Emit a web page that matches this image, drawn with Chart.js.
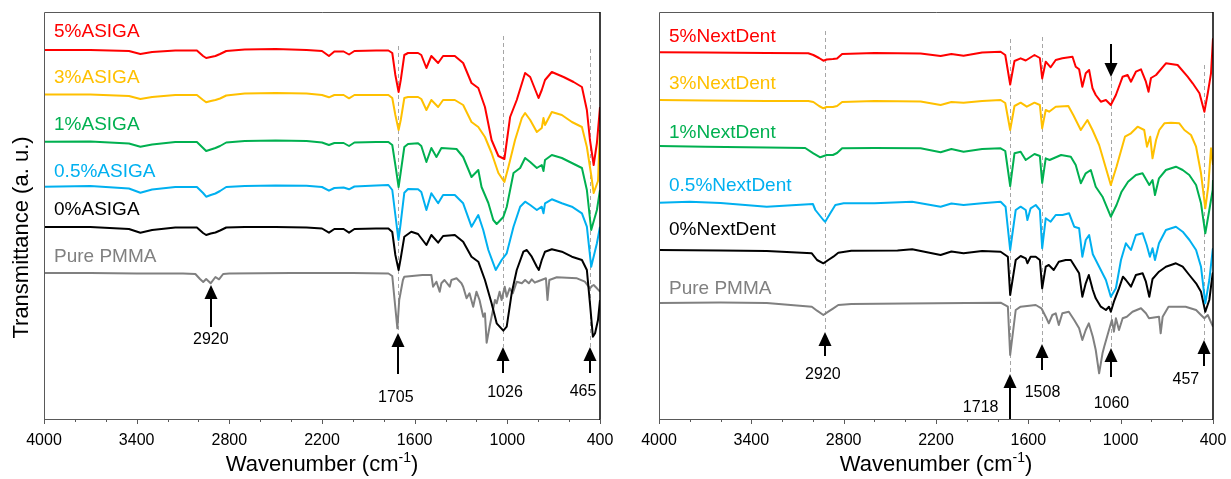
<!DOCTYPE html>
<html>
<head>
<meta charset="utf-8">
<title>FTIR spectra</title>
<script src="https://cdn.jsdelivr.net/npm/chart.js@4.4.1/dist/chart.umd.min.js"></script>
<style>
    body { margin: 0; background: #fff; }
    .wrap { position: relative; width: 1231px; height: 479px; }
    canvas { position: absolute; top: 0; }
    #asigaChart { left: 0; }
    #nextdentChart { left: 615px; }
</style>
</head>
<body>
<div class="wrap">
    <canvas id="asigaChart" width="615" height="479"></canvas>
    <canvas id="nextdentChart" width="616" height="479"></canvas>
</div>
<script>
/* ========================================
   Data (wavenumber cm-1, transmittance a.u. with offsets)
   ======================================== */

const xTicks = [4000, 3400, 2800, 2200, 1600, 1000, 400];

const asigaNames = ['5%ASIGA', '3%ASIGA', '1%ASIGA', '0.5%ASIGA', '0%ASIGA', 'Pure PMMA'];
const nextdentNames = ['5%NextDent', '3%NextDent', '1%NextDent', '0.5%NextDent', '0%NextDent', 'Pure PMMA'];

const asigaPeaks = [2920, 1705, 1026, 465];
const nextdentPeaks = [2920, 1718, 1508, 1060, 457];

const asiga5 = [
    [4000, 36.9], [3700, 36.9], [3450, 36.8], [3376, 36.5], [3300, 36.7], [3150, 36.85], [3010, 36.85],
    [2970, 36.3], [2950, 36.1], [2920, 36.2], [2890, 36.3], [2860, 36.5], [2820, 36.8], [2700, 36.95],
    [2500, 37.0], [2300, 36.9], [2200, 36.8], [2155, 36.3], [2120, 36.75], [2060, 36.75], [2025, 36.45],
    [1990, 36.8], [1850, 36.85], [1770, 36.85], [1745, 36.6], [1725, 34.4], [1704, 32.7], [1690, 33.9],
    [1667, 36.4], [1643, 36.6], [1578, 36.6], [1557, 36.4], [1524, 35.1], [1492, 36.3], [1448, 35.6],
    [1416, 36.3], [1340, 36.3], [1286, 35.6], [1232, 33.6], [1188, 33.1], [1145, 31.2], [1102, 27.9],
    [1058, 26.3], [1019, 26.0], [982, 30.2], [939, 31.9], [885, 34.6], [852, 34.2], [798, 32.1],
    [777, 32.9], [756, 33.9], [712, 34.7], [636, 34.2], [571, 33.7], [517, 33.2], [485, 30.9],
    [465, 27.9], [441, 25.4], [420, 27.6], [400, 31.2]
];
const asiga3 = [
    [4000, 32.45], [3700, 32.45], [3450, 32.3], [3376, 32.0], [3300, 32.2], [3150, 32.4], [3010, 32.4],
    [2970, 31.9], [2950, 31.67], [2920, 31.8], [2890, 31.9], [2860, 32.05], [2820, 32.35], [2700, 32.55],
    [2500, 32.6], [2300, 32.55], [2200, 32.4], [2155, 32.17], [2120, 32.4], [2060, 32.4], [2025, 32.07],
    [1990, 32.4], [1850, 32.4], [1770, 32.4], [1745, 32.1], [1725, 30.4], [1704, 28.9], [1690, 29.9],
    [1667, 32.1], [1643, 32.2], [1578, 32.2], [1557, 32.0], [1524, 30.9], [1492, 31.9], [1448, 31.2],
    [1416, 31.9], [1340, 31.9], [1286, 31.4], [1232, 29.7], [1188, 29.2], [1145, 28.2], [1102, 26.6],
    [1058, 24.6], [1019, 23.7], [993, 25.2], [950, 27.9], [906, 30.1], [885, 30.6], [852, 29.9],
    [809, 28.7], [777, 29.1], [766, 30.1], [756, 29.4], [712, 30.7], [647, 30.4], [582, 29.7],
    [517, 29.2], [485, 27.2], [457, 24.4], [441, 22.6], [413, 23.8], [400, 28.9]
];
const asiga1 = [
    [4000, 27.73], [3700, 27.75], [3450, 27.55], [3376, 27.23], [3300, 27.45], [3150, 27.7], [3010, 27.7],
    [2970, 27.1], [2950, 26.8], [2920, 26.95], [2890, 27.1], [2860, 27.3], [2820, 27.65], [2700, 27.8],
    [2500, 27.85], [2300, 27.8], [2200, 27.65], [2155, 27.4], [2120, 27.6], [2060, 27.6], [2025, 27.3],
    [1990, 27.65], [1850, 27.7], [1770, 27.7], [1745, 27.4], [1725, 25.4], [1704, 23.2], [1690, 24.7],
    [1667, 27.2], [1643, 27.5], [1578, 27.57], [1557, 27.3], [1524, 25.7], [1492, 27.1], [1459, 26.2],
    [1427, 27.1], [1329, 27.0], [1286, 26.2], [1232, 24.2], [1188, 24.9], [1167, 23.2], [1123, 21.6],
    [1091, 19.9], [1069, 19.5], [1026, 20.2], [1004, 21.2], [960, 24.6], [917, 25.1], [885, 26.1],
    [852, 25.7], [809, 25.1], [777, 25.4], [766, 24.8], [756, 25.9], [712, 26.4], [647, 26.1],
    [582, 25.6], [517, 25.1], [485, 22.9], [457, 18.9], [420, 20.9], [400, 22.9]
];
const asiga05 = [
    [4000, 23.23], [3700, 23.3], [3450, 23.05], [3376, 22.63], [3300, 22.95], [3150, 23.2], [3010, 23.2],
    [2970, 22.6], [2950, 22.23], [2920, 22.4], [2890, 22.55], [2860, 22.8], [2820, 23.2], [2700, 23.3],
    [2500, 23.35], [2300, 23.33], [2200, 23.2], [2155, 22.83], [2120, 23.1], [2060, 23.15], [2025, 22.97],
    [1990, 23.25], [1850, 23.35], [1770, 23.4], [1745, 22.9], [1725, 20.4], [1705, 17.9], [1692, 19.4],
    [1667, 22.63], [1643, 23.0], [1578, 22.97], [1557, 22.7], [1524, 20.9], [1492, 22.57], [1448, 21.57],
    [1416, 22.4], [1340, 22.4], [1286, 21.57], [1232, 19.23], [1188, 20.4], [1156, 18.9], [1123, 16.9],
    [1091, 15.57], [1075, 14.9], [1037, 15.9], [1004, 16.57], [960, 19.23], [917, 21.23], [885, 21.73],
    [852, 21.4], [809, 20.9], [777, 21.23], [766, 20.57], [756, 21.57], [712, 21.97], [647, 21.57],
    [582, 21.23], [517, 20.57], [485, 19.23], [457, 15.23], [420, 17.57], [400, 19.23]
];
const asiga0 = [
    [4000, 19.2], [3700, 19.2], [3450, 19.0], [3376, 18.63], [3300, 18.9], [3150, 19.15], [3010, 19.15],
    [2970, 18.6], [2950, 18.4], [2920, 18.55], [2890, 18.65], [2860, 18.85], [2820, 19.15], [2700, 19.2],
    [2500, 19.2], [2300, 19.15], [2200, 19.05], [2155, 18.63], [2120, 19.0], [2060, 19.0], [2025, 18.63],
    [1990, 19.0], [1850, 19.05], [1770, 19.05], [1745, 18.7], [1725, 16.4], [1704, 14.9], [1690, 16.1],
    [1667, 18.23], [1622, 18.73], [1578, 18.5], [1524, 17.4], [1492, 18.4], [1448, 17.63], [1416, 18.3],
    [1340, 18.4], [1286, 17.73], [1232, 16.23], [1188, 15.73], [1145, 13.9], [1102, 11.57], [1069, 9.57],
    [1026, 8.83], [1004, 9.23], [972, 12.57], [939, 14.9], [896, 16.73], [874, 16.9], [842, 16.23],
    [809, 15.23], [796, 14.9], [777, 15.9], [756, 16.73], [712, 16.97], [647, 16.73], [582, 16.23],
    [517, 15.9], [485, 14.9], [465, 11.57], [446, 8.23], [432, 8.57], [413, 9.9], [400, 11.9]
];
const pmmaA = [
    [4000, 14.6], [3700, 14.6], [3400, 14.55], [3100, 14.55], [3020, 14.5], [2990, 14.0], [2969, 13.7],
    [2950, 14.0], [2921, 13.57], [2890, 14.2], [2867, 13.97], [2840, 14.5], [2800, 14.55], [2400, 14.6],
    [2000, 14.6], [1770, 14.55], [1745, 14.3], [1730, 11.9], [1712, 9.07], [1700, 11.9], [1676, 13.9],
    [1667, 14.23], [1550, 14.4], [1492, 14.4], [1481, 13.23], [1459, 13.73], [1438, 12.73], [1427, 13.57],
    [1407, 13.9], [1373, 13.23], [1362, 13.9], [1329, 14.07], [1297, 13.57], [1286, 13.23], [1264, 12.07],
    [1245, 12.57], [1221, 11.23], [1200, 12.73], [1180, 11.9], [1156, 10.23], [1145, 10.57], [1134, 7.63],
    [1115, 9.23], [1102, 10.23], [1080, 11.9], [1069, 11.57], [1050, 12.73], [1037, 11.9], [1017, 13.23],
    [1004, 12.23], [985, 13.07], [965, 12.57], [939, 13.73], [906, 13.57], [885, 13.9], [861, 13.57],
    [842, 13.97], [822, 13.63], [809, 13.73], [750, 14.07], [740, 11.9], [728, 13.9], [680, 14.17],
    [549, 14.07], [498, 13.73], [465, 13.07], [452, 13.3], [441, 13.4], [420, 13.07], [400, 12.73]
];

const nextdent5 = [
    [4000, 36.67], [3700, 36.65], [3300, 36.6], [3030, 36.57], [2997, 36.4], [2960, 36.1], [2932, 35.83],
    [2910, 35.95], [2870, 36.0], [2843, 36.05], [2810, 36.5], [2600, 36.6], [2300, 36.55], [2170, 36.3],
    [2100, 36.5], [2021, 36.33], [1900, 36.65], [1780, 36.73], [1750, 36.4], [1718, 33.45], [1690, 35.8],
    [1650, 36.07], [1617, 35.85], [1560, 36.4], [1525, 36.1], [1510, 34.05], [1487, 35.73], [1455, 35.17],
    [1422, 35.9], [1379, 36.07], [1313, 36.23], [1292, 35.23], [1270, 34.97], [1249, 33.23], [1227, 34.57],
    [1205, 34.9], [1183, 33.07], [1162, 32.4], [1129, 31.73], [1096, 31.9], [1064, 31.4], [1031, 32.4],
    [987, 34.23], [955, 34.4], [933, 33.73], [901, 34.73], [868, 34.97], [836, 33.73], [819, 32.73],
    [803, 34.1], [770, 34.4], [706, 35.57], [630, 35.4], [565, 34.23], [532, 33.57], [510, 33.07],
    [488, 32.57], [456, 30.73], [434, 32.57], [413, 34.57], [400, 38.07]
];
const nextdent3 = [
    [4000, 31.9], [3700, 31.85], [3300, 31.8], [3030, 31.8], [2997, 31.7], [2960, 31.3], [2932, 31.07],
    [2910, 31.2], [2870, 31.2], [2843, 31.3], [2810, 31.7], [2600, 31.8], [2300, 31.75], [2170, 31.4],
    [2100, 31.7], [2021, 31.63], [1900, 31.8], [1780, 31.9], [1750, 31.6], [1718, 28.9], [1690, 31.3],
    [1650, 31.63], [1610, 31.23], [1560, 31.63], [1525, 31.4], [1510, 29.07], [1487, 30.9], [1465, 30.73],
    [1422, 31.23], [1340, 31.3], [1308, 30.4], [1259, 28.9], [1216, 29.9], [1183, 28.9], [1140, 27.4],
    [1064, 23.4], [1027, 25.23], [972, 28.23], [933, 28.57], [890, 29.23], [847, 28.9], [829, 27.23],
    [808, 28.23], [793, 26.07], [770, 27.9], [749, 28.9], [716, 29.57], [673, 29.63], [619, 29.57],
    [586, 28.9], [543, 28.4], [510, 27.23], [478, 24.57], [450, 21.07], [431, 23.23], [413, 27.07],
    [400, 25.4]
];
const nextdent1 = [
    [4000, 27.3], [3700, 27.23], [3300, 27.15], [3050, 27.1], [2997, 26.57], [2952, 26.17], [2910, 26.4],
    [2870, 26.4], [2843, 26.6], [2810, 27.07], [2600, 27.1], [2300, 27.07], [2170, 26.67], [2100, 27.0],
    [2021, 26.73], [1900, 27.0], [1780, 27.07], [1750, 26.8], [1718, 23.3], [1690, 26.57], [1650, 26.73],
    [1617, 25.9], [1560, 26.5], [1525, 26.3], [1510, 23.6], [1487, 26.07], [1462, 25.9], [1387, 26.4],
    [1324, 26.23], [1292, 25.4], [1259, 23.57], [1227, 24.57], [1194, 24.9], [1162, 23.23], [1118, 22.23],
    [1064, 20.23], [1027, 21.4], [994, 22.73], [952, 23.73], [901, 24.4], [858, 24.57], [814, 23.4],
    [793, 23.9], [777, 22.4], [751, 24.07], [706, 24.9], [641, 25.23], [597, 24.9], [554, 24.4],
    [510, 23.4], [478, 21.57], [450, 18.57], [424, 20.9], [402, 22.9], [400, 23.9]
];
const nextdent05 = [
    [4000, 21.63], [3800, 21.73], [3600, 21.6], [3300, 21.23], [3000, 21.5], [2984, 20.9], [2932, 19.9],
    [2920, 19.73], [2887, 20.57], [2854, 21.4], [2800, 21.57], [2600, 21.57], [2355, 21.73], [2170, 21.23],
    [2100, 21.55], [2021, 21.4], [1900, 21.57], [1780, 21.73], [1748, 21.23], [1718, 16.9], [1682, 20.9],
    [1650, 21.23], [1617, 20.9], [1606, 19.9], [1585, 21.07], [1552, 21.4], [1525, 20.9], [1510, 17.07],
    [1487, 20.07], [1455, 19.73], [1422, 20.4], [1378, 20.4], [1335, 20.57], [1302, 19.23], [1270, 19.07],
    [1249, 16.23], [1227, 17.9], [1205, 18.4], [1181, 16.47], [1162, 15.9], [1129, 14.9], [1096, 13.9],
    [1064, 12.23], [1031, 13.07], [998, 15.9], [966, 17.57], [933, 16.9], [901, 18.4], [857, 18.57],
    [831, 17.4], [810, 16.23], [793, 17.07], [777, 15.9], [751, 17.57], [706, 18.9], [641, 19.23],
    [597, 18.73], [553, 17.9], [510, 16.9], [478, 15.23], [450, 11.57], [424, 13.9], [402, 16.9],
    [400, 17.07]
];
const nextdent0 = [
    [4000, 16.9], [3600, 16.85], [3300, 16.8], [3007, 16.57], [2973, 15.9], [2932, 15.57], [2900, 15.9],
    [2867, 16.23], [2835, 16.63], [2750, 16.83], [2450, 16.85], [2355, 16.97], [2170, 16.4], [2100, 16.75],
    [2021, 16.57], [1900, 16.8], [1780, 16.73], [1733, 16.23], [1718, 12.4], [1682, 15.9], [1650, 16.3],
    [1617, 16.07], [1606, 15.57], [1585, 16.23], [1552, 16.23], [1525, 15.9], [1510, 13.07], [1487, 15.23],
    [1467, 15.4], [1435, 14.9], [1402, 15.73], [1357, 15.9], [1324, 15.9], [1270, 14.57], [1249, 12.23],
    [1227, 13.57], [1207, 14.4], [1181, 12.9], [1162, 12.07], [1129, 11.23], [1096, 10.9], [1076, 11.23],
    [1064, 10.73], [1044, 11.73], [1011, 13.07], [985, 14.23], [966, 13.9], [933, 13.23], [901, 14.4],
    [857, 14.57], [836, 13.73], [814, 12.23], [793, 14.0], [751, 14.73], [706, 15.23], [641, 15.57],
    [597, 15.23], [554, 14.4], [510, 13.57], [478, 12.73], [450, 10.73], [424, 11.9], [402, 14.57],
    [400, 13.9]
];
const pmmaN = [
    [4000, 11.6], [3600, 11.65], [3300, 11.6], [3007, 11.23], [2973, 10.83], [2932, 10.4], [2900, 10.73],
    [2867, 11.07], [2835, 11.4], [2750, 11.5], [2400, 11.55], [2000, 11.6], [1780, 11.63], [1733, 11.23],
    [1718, 6.4], [1682, 10.9], [1650, 11.23], [1552, 11.4], [1515, 11.07], [1487, 10.23], [1467, 9.57],
    [1444, 10.4], [1422, 10.57], [1402, 9.4], [1379, 10.57], [1337, 10.73], [1302, 9.9], [1270, 9.07],
    [1249, 7.9], [1227, 8.9], [1207, 9.57], [1181, 8.23], [1162, 6.9], [1140, 4.57], [1118, 6.57],
    [1107, 7.23], [1076, 8.9], [1057, 9.9], [1044, 8.73], [1031, 10.07], [1011, 8.9], [987, 10.07],
    [960, 10.23], [923, 10.73], [868, 11.07], [836, 10.57], [816, 10.07], [751, 10.23], [740, 8.57],
    [727, 10.23], [689, 11.23], [578, 11.23], [510, 10.9], [478, 10.4], [456, 10.07], [434, 10.4],
    [400, 9.23]
];

/* ========================================
   Styles & layout
   ======================================== */

const FONT = '"Liberation Sans", Arial, sans-serif';
const seriesColors = ['#FF0000', '#FFC000', '#00B050', '#00B0F0', '#000000', '#808080'];

const asigaPanel = {
    labelWn: 3935,
    labelT: [38.7, 34.1, 29.4, 24.7, 20.9, 16.2],
    yTitle: true,
    marks: [
        { top: null, tip: 13.4, tail: 9.2, labelWn: 2920, labelT: 7.9 },
        { top: 37.3, tip: 8.6, tail: 4.5, labelWn: 1722, labelT: 2.1 },
        { top: 38.3, tip: 7.2, tail: 4.6, labelWn: 1015, labelT: 2.6 },
        { top: 37.0, tip: 7.2, tail: 4.6, labelWn: 510, labelT: 2.7 }
    ]
};

const nextdentPanel = {
    labelWn: 3935,
    labelT: [38.2, 33.5, 28.6, 23.3, 18.9, 13.0],
    yTitle: false,
    marks: [
        { top: 38.8, tip: 8.7, tail: 6.3, labelWn: 2935, labelT: 4.4 },
        { top: 38.0, tip: 4.5, tail: 0, labelWn: 1910, labelT: 1.1 },
        { top: 38.2, tip: 7.5, tail: 4.9, labelWn: 1508, labelT: 2.6 },
        { top: 34.2, tip: 7.1, tail: 4.2, labelWn: 1060, labelT: 1.5, down: { tip: 34.2, tail: 37.5 } },
        { top: 35.4, tip: 7.9, tail: 5.3, labelWn: 576, labelT: 3.9 }
    ]
};

/* ========================================
   Drawing helpers
   ======================================== */

function drawArrow(ctx, px, yTail, yTip) {
    const dir = yTip > yTail ? 1 : -1;
    const head = 14;
    ctx.strokeStyle = '#000';
    ctx.fillStyle = '#000';
    ctx.lineWidth = 2;
    ctx.beginPath();
    ctx.moveTo(px, yTail);
    ctx.lineTo(px, yTip - dir * head);
    ctx.stroke();
    ctx.beginPath();
    ctx.moveTo(px, yTip);
    ctx.lineTo(px - 6.5, yTip - dir * head);
    ctx.lineTo(px + 6.5, yTip - dir * head);
    ctx.closePath();
    ctx.fill();
}

function makeDecor(panel, peaks) {
    return {
        id: 'ftirDecor',
        beforeDatasetsDraw(chart) {
            const { ctx, scales: { x, y } } = chart;
            ctx.save();
            ctx.strokeStyle = '#a6a6a6';
            ctx.lineWidth = 1;
            ctx.setLineDash([4, 3]);
            panel.marks.forEach((m, i) => {
                if (m.top == null) return;
                const px = Math.round(x.getPixelForValue(peaks[i])) + 0.5;
                ctx.beginPath();
                ctx.moveTo(px, y.getPixelForValue(m.top));
                ctx.lineTo(px, y.getPixelForValue(m.tip));
                ctx.stroke();
            });
            ctx.restore();
        },
        afterDatasetsDraw(chart) {
            const { ctx, chartArea: a, scales: { x, y } } = chart;
            ctx.save();

            // frame
            ctx.strokeStyle = '#595959';
            ctx.lineWidth = 1;
            ctx.beginPath();
            ctx.moveTo(a.right, a.top + 0.5);
            ctx.lineTo(a.left + 0.5, a.top + 0.5);
            ctx.lineTo(a.left + 0.5, a.bottom + 0.5);
            ctx.lineTo(a.right, a.bottom + 0.5);
            ctx.stroke();
            ctx.strokeStyle = '#000';
            ctx.lineWidth = 1.5;
            ctx.beginPath();
            ctx.moveTo(a.right, a.top);
            ctx.lineTo(a.right, a.bottom + 1);
            ctx.stroke();

            // x ticks (major every 600, minor every 200) and tick labels
            ctx.strokeStyle = '#595959';
            ctx.lineWidth = 1;
            for (let v = 400; v <= 4000; v += 200) {
                const major = xTicks.includes(v);
                const px = Math.round(x.getPixelForValue(v)) + 0.5;
                ctx.beginPath();
                ctx.moveTo(px, a.bottom);
                ctx.lineTo(px, a.bottom + (major ? 5 : 3));
                ctx.stroke();
            }
            ctx.fillStyle = '#000';
            ctx.font = '16px ' + FONT;
            ctx.textAlign = 'center';
            ctx.textBaseline = 'middle';
            xTicks.forEach(v => {
                ctx.fillText(String(v), x.getPixelForValue(v), a.bottom + 22);
            });

            // peak arrows + labels
            panel.marks.forEach((m, i) => {
                const px = Math.round(x.getPixelForValue(peaks[i]));
                drawArrow(ctx, px, y.getPixelForValue(m.tail), y.getPixelForValue(m.tip));
                if (m.down) {
                    drawArrow(ctx, px, y.getPixelForValue(m.down.tail), y.getPixelForValue(m.down.tip));
                }
                ctx.fillStyle = '#000';
                ctx.fillText(String(peaks[i]), x.getPixelForValue(m.labelWn), y.getPixelForValue(m.labelT));
            });

            // series names
            ctx.font = '19px ' + FONT;
            ctx.textAlign = 'left';
            chart.data.datasets.forEach((ds, i) => {
                ctx.fillStyle = ds.borderColor;
                ctx.fillText(ds.label, x.getPixelForValue(panel.labelWn), y.getPixelForValue(panel.labelT[i]));
            });

            // x title with superscript
            const cx = (a.left + a.right) / 2;
            const ty = 463;
            const main1 = 'Wavenumber (cm', sup = '-1', main2 = ')';
            ctx.font = '22px ' + FONT;
            const w1 = ctx.measureText(main1).width;
            const w3 = ctx.measureText(main2).width;
            ctx.font = '14px ' + FONT;
            const w2 = ctx.measureText(sup).width;
            const sx = cx - (w1 + w2 + w3) / 2;
            ctx.fillStyle = '#000';
            ctx.textBaseline = 'alphabetic';
            ctx.font = '22px ' + FONT;
            ctx.fillText(main1, sx, ty + 8);
            ctx.font = '14px ' + FONT;
            ctx.fillText(sup, sx + w1, ty - 1);
            ctx.font = '22px ' + FONT;
            ctx.fillText(main2, sx + w1 + w2, ty + 8);

            // y title
            if (panel.yTitle) {
                ctx.translate(21.5, 237.5);
                ctx.rotate(-Math.PI / 2);
                ctx.textAlign = 'center';
                ctx.textBaseline = 'middle';
                ctx.font = '22px ' + FONT;
                ctx.fillText('Transmittance (a. u.)', 0, 0);
            }
            ctx.restore();
        }
    };
}

/* ========================================
   Chart Initialization
   ======================================== */

function toPoints(pairs) {
    return pairs.map(p => ({ x: p[0], y: p[1] }));
}

function buildChart(canvasId, names, series, panel, peaks, rightPad) {
    const ctx = document.getElementById(canvasId).getContext('2d');
    return new Chart(ctx, {
        type: 'line',
        data: {
            datasets: series.map((s, i) => ({
                label: names[i],
                data: toPoints(s),
                borderColor: seriesColors[i],
                backgroundColor: seriesColors[i],
                borderWidth: 2,
                pointRadius: 0,
                tension: 0,
                borderJoinStyle: 'round',
                fill: false
            }))
        },
        options: {
            responsive: false,
            animation: false,
            devicePixelRatio: 1,
            layout: { padding: { top: 12, right: rightPad, left: 0, bottom: 0 } },
            plugins: {
                legend: { display: false },
                tooltip: { enabled: false }
            },
            scales: {
                x: {
                    type: 'linear',
                    min: 400,
                    max: 4000,
                    reverse: true,
                    border: { display: false },
                    grid: { display: false, drawTicks: false },
                    ticks: { display: false },
                    afterFit: scale => { scale.height = 60; }
                },
                y: {
                    min: 0,
                    max: 40.7,
                    border: { display: false },
                    grid: { display: false },
                    ticks: { display: false },
                    afterFit: scale => { scale.width = 44; }
                }
            }
        },
        plugins: [makeDecor(panel, peaks)]
    });
}

buildChart('asigaChart', asigaNames,
    [asiga5, asiga3, asiga1, asiga05, asiga0, pmmaA], asigaPanel, asigaPeaks, 15);
buildChart('nextdentChart', nextdentNames,
    [nextdent5, nextdent3, nextdent1, nextdent05, nextdent0, pmmaN], nextdentPanel, nextdentPeaks, 18);
</script>
</body>
</html>
